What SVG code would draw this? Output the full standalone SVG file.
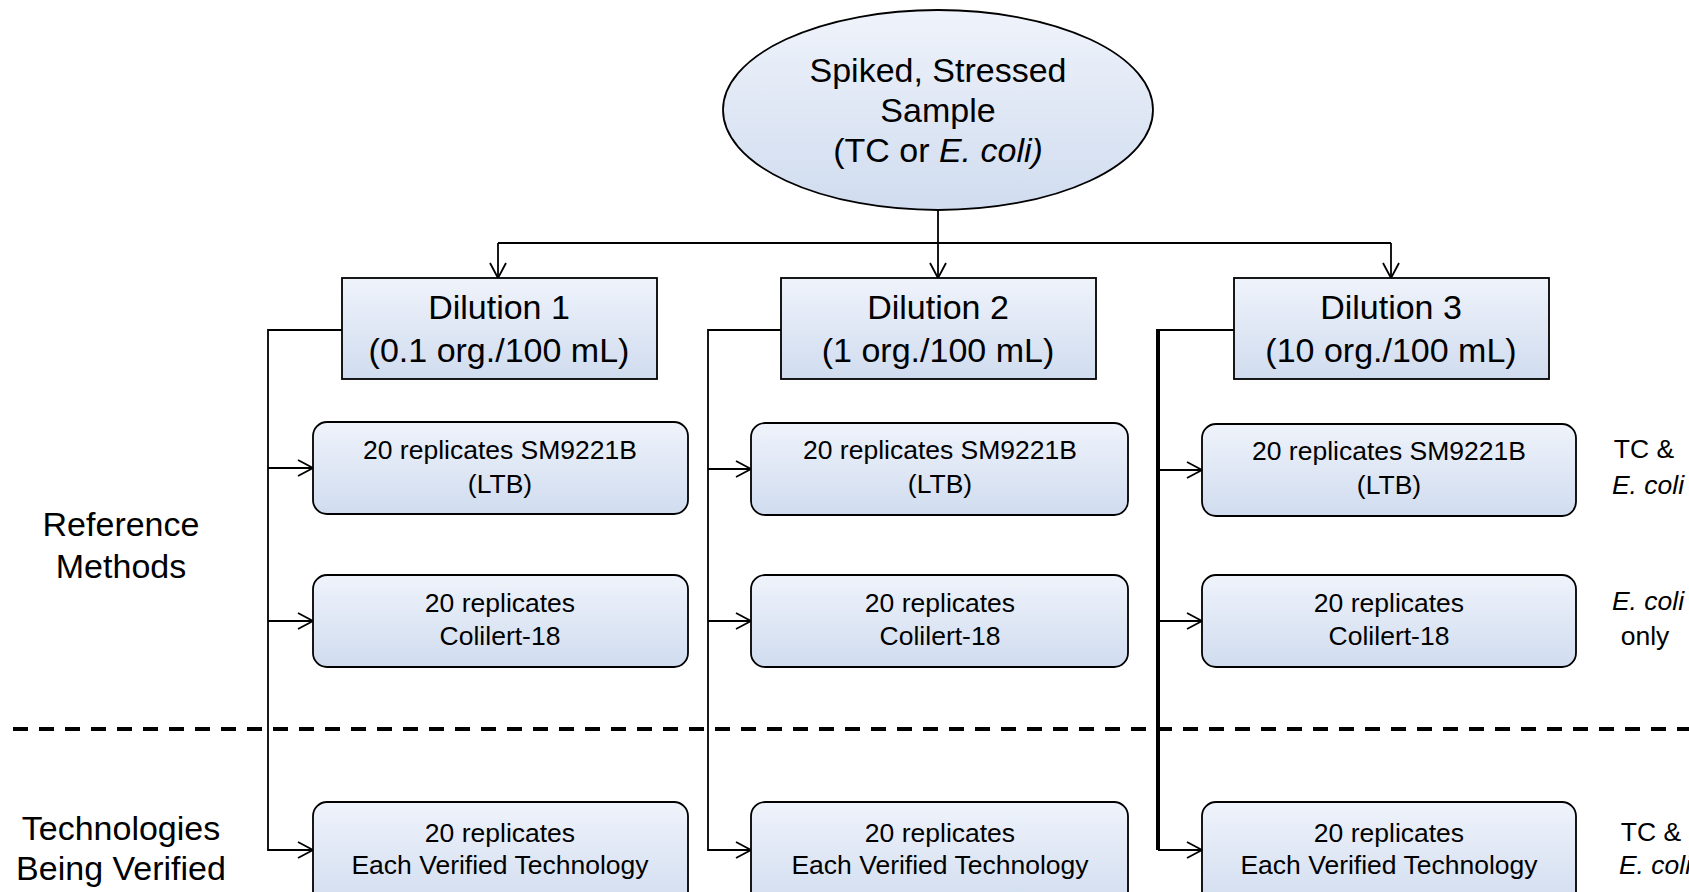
<svg xmlns="http://www.w3.org/2000/svg" width="1689" height="892" viewBox="0 0 1689 892">
<defs>
<linearGradient id="g" x1="0" y1="0" x2="0" y2="1">
<stop offset="0" stop-color="#eff3fb"/>
<stop offset="1" stop-color="#d0dcef"/>
</linearGradient>
<marker id="ar" markerUnits="userSpaceOnUse" markerWidth="20" markerHeight="20" refX="16" refY="9" orient="auto">
<path d="M1,1 L16,9 L1,17" fill="none" stroke="#000" stroke-width="1.8"/>
</marker>
<style>
.n{fill:url(#g);stroke:#000;stroke-width:1.8}
.t{font-family:"Liberation Sans",Arial,sans-serif;fill:#000;text-anchor:middle}
.big{font-size:34px}
.sm{font-size:26.5px}
.c{fill:none;stroke:#000;stroke-width:1.8}
.ca{fill:none;stroke:#000;stroke-width:1.8;marker-end:url(#ar)}
</style>
</defs>
<g id="connectors">
<path class="c" d="M938 210 V243 M498 243 H1391"/>
<path class="ca" d="M498 243 V278"/>
<path class="ca" d="M938 243 V278"/>
<path class="ca" d="M1391 243 V278"/>
<path class="ca" d="M342 330 H268 V850 H313"/>
<path class="ca" d="M268 468 H313"/>
<path class="ca" d="M268 621 H313"/>
<path class="ca" d="M781 330 H708 V850 H751"/>
<path class="ca" d="M708 469 H751"/>
<path class="ca" d="M708 621 H751"/>
<path class="c" d="M1158 330 V850" style="stroke-width:4"/>
<path class="c" d="M1234 330 H1156"/>
<path class="ca" d="M1158 850 H1202"/>
<path class="ca" d="M1158 470 H1202"/>
<path class="ca" d="M1158 621 H1202"/>
</g>
<g id="divider">
<path d="M13 729 H1689" stroke="#000" stroke-width="4" stroke-dasharray="15 11" fill="none"/>
</g>
<g id="sample">
<ellipse class="n" cx="938" cy="110" rx="215" ry="100"/>
<text class="t big" x="938" y="82">Spiked, Stressed</text>
<text class="t big" x="938" y="122">Sample</text>
<text class="t big" x="938" y="162">(TC or <tspan font-style="italic">E. coli)</tspan></text>
</g>
<g id="dilution1">
<rect class="n" x="342" y="278" width="315" height="101"/>
<text class="t big" x="499" y="319">Dilution 1</text>
<text class="t big" x="499" y="362">(0.1 org./100 mL)</text>
</g>
<g id="dilution2">
<rect class="n" x="781" y="278" width="315" height="101"/>
<text class="t big" x="938" y="319">Dilution 2</text>
<text class="t big" x="938" y="362">(1 org./100 mL)</text>
</g>
<g id="dilution3">
<rect class="n" x="1234" y="278" width="315" height="101"/>
<text class="t big" x="1391" y="319">Dilution 3</text>
<text class="t big" x="1391" y="362">(10 org./100 mL)</text>
</g>
<g id="ltb1">
<rect class="n" x="313" y="422" width="375" height="92" rx="14"/>
<text class="t sm" x="500" y="459">20 replicates SM9221B</text>
<text class="t sm" x="500" y="493">(LTB)</text>
</g>
<g id="ltb2">
<rect class="n" x="751" y="423" width="377" height="92" rx="14"/>
<text class="t sm" x="940" y="459">20 replicates SM9221B</text>
<text class="t sm" x="940" y="493">(LTB)</text>
</g>
<g id="ltb3">
<rect class="n" x="1202" y="424" width="374" height="92" rx="14"/>
<text class="t sm" x="1389" y="460">20 replicates SM9221B</text>
<text class="t sm" x="1389" y="494">(LTB)</text>
</g>
<g id="col1">
<rect class="n" x="313" y="575" width="375" height="92" rx="14"/>
<text class="t sm" x="500" y="612">20 replicates</text>
<text class="t sm" x="500" y="645">Colilert-18</text>
</g>
<g id="col2">
<rect class="n" x="751" y="575" width="377" height="92" rx="14"/>
<text class="t sm" x="940" y="612">20 replicates</text>
<text class="t sm" x="940" y="645">Colilert-18</text>
</g>
<g id="col3">
<rect class="n" x="1202" y="575" width="374" height="92" rx="14"/>
<text class="t sm" x="1389" y="612">20 replicates</text>
<text class="t sm" x="1389" y="645">Colilert-18</text>
</g>
<g id="tech1">
<rect class="n" x="313" y="802" width="375" height="110" rx="14"/>
<text class="t sm" x="500" y="842">20 replicates</text>
<text class="t sm" x="500" y="874">Each Verified Technology</text>
</g>
<g id="tech2">
<rect class="n" x="751" y="802" width="377" height="110" rx="14"/>
<text class="t sm" x="940" y="842">20 replicates</text>
<text class="t sm" x="940" y="874">Each Verified Technology</text>
</g>
<g id="tech3">
<rect class="n" x="1202" y="802" width="374" height="110" rx="14"/>
<text class="t sm" x="1389" y="842">20 replicates</text>
<text class="t sm" x="1389" y="874">Each Verified Technology</text>
</g>
<g id="labels">
<text class="t big" x="121" y="536">Reference</text>
<text class="t big" x="121" y="578">Methods</text>
<text class="t big" x="121" y="840">Technologies</text>
<text class="t big" x="121" y="880">Being Verified</text>
<text class="t sm" x="1644" y="458">TC &amp;</text>
<text class="t sm" x="1648" y="494" font-style="italic">E. coli</text>
<text class="t sm" x="1648" y="610" font-style="italic">E. coli</text>
<text class="t sm" x="1645" y="645">only</text>
<text class="t sm" x="1651" y="841">TC &amp;</text>
<text class="t sm" x="1655" y="874" font-style="italic">E. coli</text>
</g>
</svg>
